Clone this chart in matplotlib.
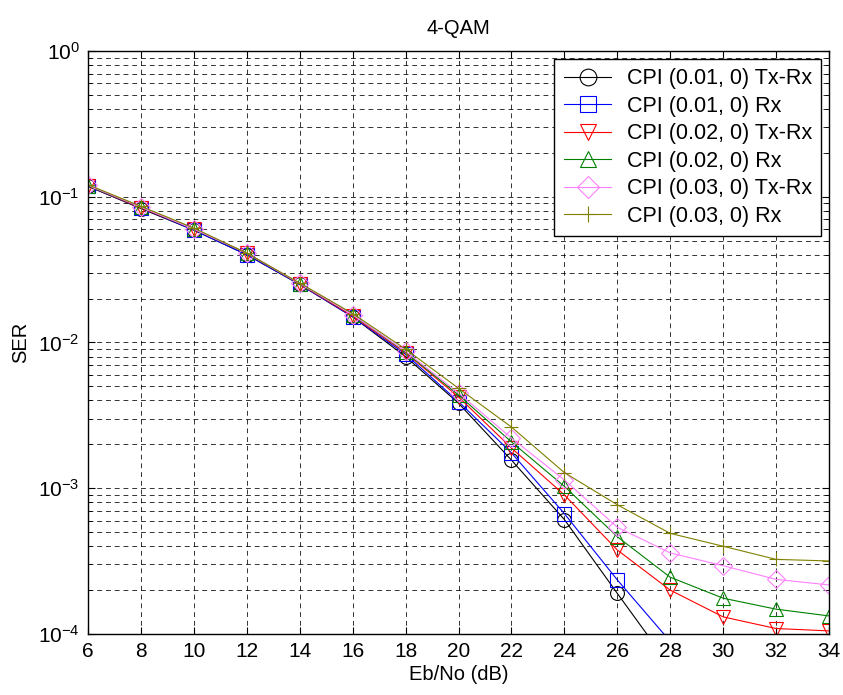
import numpy as np
import matplotlib
matplotlib.use('Agg')
import matplotlib.pyplot as plt
from matplotlib.ticker import LogLocator, NullFormatter

plt.rcParams['font.family'] = ['Liberation Sans', 'DejaVu Sans']
plt.rcParams['font.size'] = 14.5
plt.rcParams['mathtext.fontset'] = 'custom'
plt.rcParams['mathtext.rm'] = 'Liberation Sans'

# Eb/No (dB)
ebno = [6, 8, 10, 12, 14, 16, 18, 20, 22, 24, 26, 28, 30, 32, 34]

# SER
ser_001_txrx = [0.118, 0.083, 0.059, 0.040, 0.0250, 0.0150, 0.0080, 0.00383, 0.00156, 0.00061, 0.00019, 0.00006]
ser_001_rx = [0.118, 0.084, 0.059, 0.040, 0.0250, 0.0150, 0.0083, 0.00393, 0.00175, 0.00067, 0.000235, 0.000089]
ser_002_txrx = [0.119, 0.084, 0.060, 0.041, 0.0252, 0.0152, 0.0085, 0.00423, 0.00189, 0.00090, 0.000377, 0.00020, 0.000131, 0.000109, 0.000105]
ser_002_rx = [0.119, 0.085, 0.060, 0.041, 0.0253, 0.0155, 0.0086, 0.00436, 0.00208, 0.00103, 0.000465, 0.000245, 0.000176, 0.000148, 0.000133]
ser_003_txrx = [0.120, 0.085, 0.060, 0.041, 0.0254, 0.0155, 0.0087, 0.00450, 0.00221, 0.00114, 0.00054, 0.00036, 0.000294, 0.000237, 0.000217]
ser_003_rx = [0.121, 0.086, 0.061, 0.041, 0.0256, 0.0158, 0.0090, 0.00485, 0.00263, 0.00128, 0.00077, 0.00049, 0.00040, 0.000325, 0.000317]

series = [
    ('CPI (0.01, 0) Tx-Rx', ser_001_txrx, 'k', 'o'),
    ('CPI (0.01, 0) Rx', ser_001_rx, (0, 0, 1), 's'),
    ('CPI (0.02, 0) Tx-Rx', ser_002_txrx, (1, 0, 0), 'v'),
    ('CPI (0.02, 0) Rx', ser_002_rx, (0, 0.5, 0), '^'),
    ('CPI (0.03, 0) Tx-Rx', ser_003_txrx, (1, 0.5, 1), 'D'),
    ('CPI (0.03, 0) Rx', ser_003_rx, (0.5, 0.5, 0), '+'),
]

fig = plt.figure(figsize=(8.43, 6.95), dpi=100)
ax = fig.add_axes([0.1044, 0.0878, 0.879, 0.8388])

for label, vals, col, mk in series:
    ms = 9 if mk == 'D' else 10
    ax.semilogy(ebno[:len(vals)], vals, color=col, marker=mk, markersize=ms,
                markerfacecolor='none', markeredgecolor=col, markeredgewidth=0.8,
                linewidth=0.8, label=label)

ax.set_xlim(6, 34)
ax.set_ylim(1e-4, 1)
ax.set_xticks(range(6, 35, 2))
ax.yaxis.set_major_locator(LogLocator(base=10, numticks=10))
ax.yaxis.set_minor_locator(LogLocator(base=10, subs=np.arange(2, 10), numticks=10))
ax.yaxis.set_minor_formatter(NullFormatter())

ax.grid(True, which='major', axis='both', color='k', linestyle=(0, (5, 4)), linewidth=0.7, alpha=0.8)
ax.grid(True, which='minor', axis='y', color='k', linestyle=(0, (5, 4)), linewidth=0.7, alpha=0.8)

ax.tick_params(which='both', direction='in', top=True, right=True, labelsize=15)
ax.tick_params(which='major', length=5, pad=6)
ax.tick_params(which='minor', length=3)
for sp in ax.spines.values():
    sp.set_linewidth(1.0)

ax.set_title('4-QAM', fontsize=14.5, pad=12)
ax.set_xlabel('Eb/No (dB)', fontsize=14.5, labelpad=3)
ax.set_ylabel('SER', fontsize=14.5, labelpad=6)

leg = ax.legend(loc='upper right', fontsize=15.5, fancybox=False, framealpha=1,
                edgecolor='k', handlelength=2.2, borderaxespad=0.35,
                labelspacing=0.3, handletextpad=0.7, borderpad=0.45,
                markerscale=1.2)
leg.get_frame().set_linewidth(1.0)

fig.savefig('out.png', dpi=100)
